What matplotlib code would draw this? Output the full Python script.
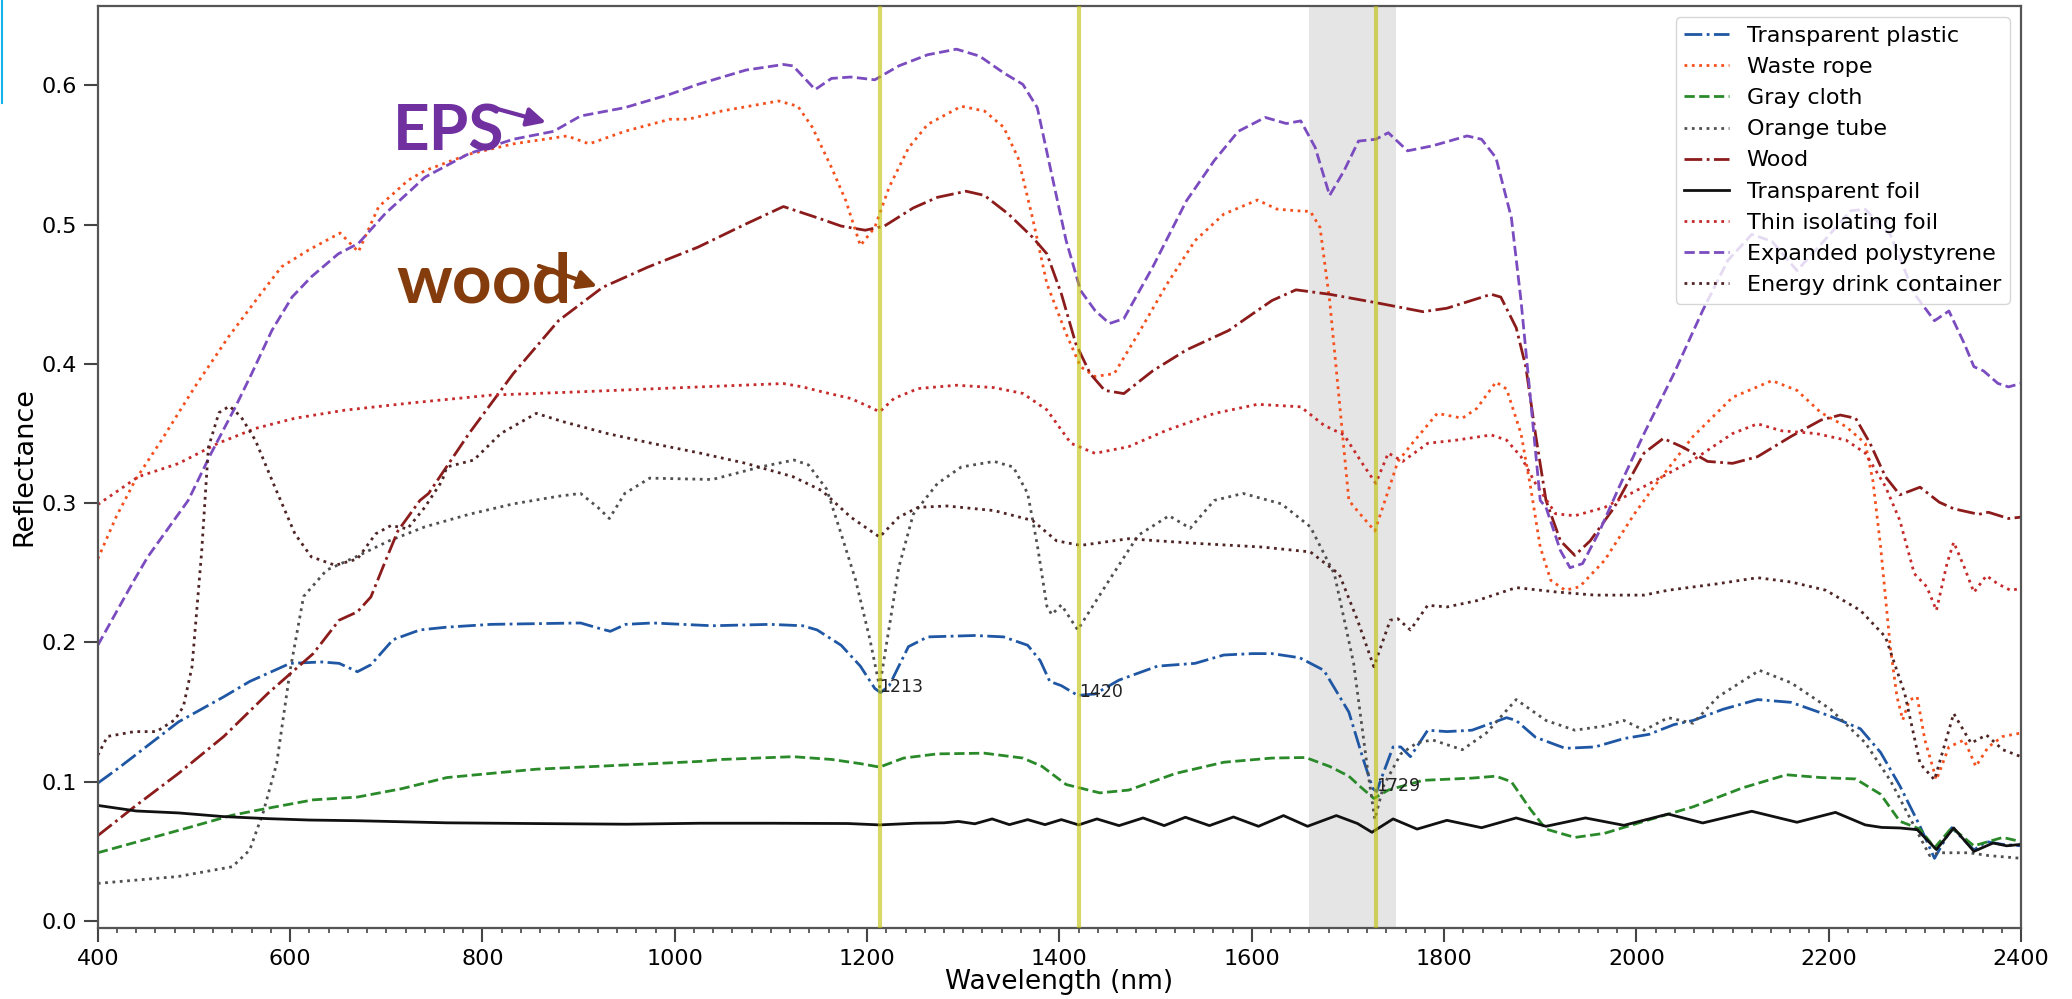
import matplotlib.pyplot as plt
from matplotlib.lines import Line2D

# reflectance spectra (wavelength nm, reflectance)
wl_plastic = [400, 420, 484, 531, 558, 600, 633, 651, 670, 684, 707, 735, 763, 809, 902, 922, 933, 949, 977,
              1039, 1099, 1133, 1148, 1173, 1193, 1208, 1214, 1223, 1243, 1263, 1312, 1342, 1367, 1380, 1390,
              1402, 1419, 1437, 1462, 1502, 1541, 1571, 1601, 1621, 1650, 1675, 1701, 1716, 1726, 1730, 1734,
              1747, 1755, 1765, 1783, 1803, 1829, 1865, 1875, 1895, 1926, 1957, 1987, 2013, 2039, 2059, 2090,
              2126, 2161, 2202, 2233, 2254, 2274, 2295, 2310, 2328, 2351, 2364, 2381, 2400]
r_plastic = [.099, .109, .143, .161, .172, .185, .186, .185, .179, .184, .202, .209, .211, .213, .214, .210, .208,
             .213, .214, .212, .213, .212, .209, .198, .183, .167, .164, .169, .197, .204, .205, .204, .198, .187,
             .172, .169, .162, .163, .173, .183, .185, .191, .192, .192, .189, .180, .150, .116, .095, .093, .101,
             .125, .125, .118, .137, .136, .137, .146, .144, .132, .124, .125, .131, .134, .141, .144, .152, .159,
             .157, .147, .138, .121, .097, .068, .045, .067, .051, .057, .055, .054]

wl_rope = [400, 419, 439, 466, 501, 536, 570, 591, 619, 652, 671, 692, 723, 740, 786, 832, 888, 911, 948, 995,
           1014, 1049, 1108, 1128, 1143, 1163, 1178, 1193, 1208, 1223, 1243, 1263, 1298, 1322, 1342, 1357, 1372,
           1387, 1407, 1422, 1437, 1457, 1482, 1512, 1541, 1571, 1606, 1626, 1646, 1661, 1671, 1681, 1691, 1701,
           1711, 1728, 1742, 1752, 1767, 1793, 1819, 1834, 1854, 1865, 1880, 1890, 1900, 1911, 1926, 1941, 1967,
           1998, 2018, 2059, 2100, 2141, 2167, 2192, 2218, 2238, 2246, 2254, 2264, 2271, 2277, 2284, 2292, 2300,
           2312, 2325, 2341, 2353, 2366, 2381, 2400]
r_rope = [.260, .29, .3166, .345, .3836, .4195, .4508, .4697, .4817, .494, .4805, .5128, .532, .5387, .5506, .558,
          .5637, .558, .567, .5757, .5757, .5816, .5888, .585, .570, .541, .517, .485, .498, .527, .555, .572, .585,
          .5816, .570, .548, .505, .4575, .4217, .398, .391, .393, .4217, .4575, .4885, .5076, .5177, .5112, .51,
          .5095, .498, .4456, .374, .302, .2936, .280, .309, .330, .343, .3645, .361, .368, .387, .382, .350,
          .3115, .2685, .2446, .2375, .240, .259, .2924, .3115, .348, .376, .388, .381, .365, .355, .343, .316,
          .2685, .197, .161, .1444, .1587, .161, .130, .1014, .125, .130, .111, .125, .1325, .135]

wl_cloth = [400, 447, 494, 540, 577, 624, 670, 716, 763, 809, 856, 902, 948, 1026, 1049, 1123, 1163, 1193, 1213,
            1238, 1273, 1322, 1362, 1382, 1407, 1442, 1472, 1521, 1571, 1621, 1656, 1681, 1701, 1712, 1727, 1742,
            1778, 1829, 1854, 1870, 1890, 1906, 1936, 1967, 2008, 2059, 2110, 2156, 2192, 2228, 2254, 2274, 2295,
            2310, 2328, 2351, 2381, 2400]
r_cloth = [.049, .058, .067, .076, .081, .087, .089, .095, .103, .106, .109, .1105, .112, .1146, .116, .118, .116,
           .113, .1105, .117, .120, .1205, .117, .111, .098, .092, .094, .106, .114, .117, .1174, .111, .104, .097,
           .088, .094, .101, .1026, .104, .100, .080, .066, .060, .063, .0716, .082, .0955, .105, .103, .102, .091,
           .0716, .066, .0525, .067, .054, .060, .057]

wl_tube = [400, 484, 540, 558, 572, 586, 600, 614, 638, 651, 670, 703, 740, 786, 832, 879, 902, 920, 932, 948, 974,
           1039, 1089, 1124, 1139, 1158, 1173, 1188, 1203, 1213, 1223, 1233, 1248, 1273, 1298, 1332, 1352, 1367,
           1377, 1387, 1392, 1402, 1419, 1452, 1482, 1514, 1536, 1561, 1591, 1631, 1661, 1686, 1706, 1721, 1728,
           1737, 1755, 1772, 1788, 1819, 1844, 1875, 1906, 1936, 1967, 1987, 2008, 2033, 2059, 2085, 2128, 2161,
           2202, 2238, 2264, 2289, 2305, 2315, 2346, 2366, 2400]
r_tube = [.027, .032, .039, .051, .078, .113, .180, .233, .252, .256, .262, .273, .283, .292, .2995, .305, .307,
          .297, .289, .307, .318, .317, .326, .331, .3275, .31, .278, .245, .202, .168, .211, .254, .292, .314,
          .326, .33, .326, .307, .27, .226, .22, .227, .209, .245, .277, .291, .282, .302, .307, .2995, .283, .249,
          .185, .106, .073, .097, .12, .128, .13, .123, .135, .159, .144, .137, .14, .144, .137, .146, .142, .161,
          .18, .171, .152, .128, .101, .068, .047, .049, .049, .047, .045]

wl_wood = [400, 438, 484, 531, 577, 624, 651, 670, 684, 698, 712, 735, 744, 786, 832, 879, 925, 972, 1024, 1074,
           1113, 1148, 1173, 1198, 1218, 1248, 1273, 1303, 1322, 1347, 1372, 1387, 1402, 1417, 1432, 1447, 1467,
           1497, 1532, 1576, 1601, 1621, 1646, 1681, 1729, 1778, 1803, 1849, 1859, 1875, 1885, 1895, 1906, 1921,
           1936, 1952, 1977, 2008, 2028, 2049, 2074, 2100, 2126, 2161, 2192, 2212, 2228, 2243, 2259, 2274, 2295,
           2315, 2330, 2356, 2366, 2387, 2400]
r_wood = [.0613, .082, .106, .1325, .1635, .192, .216, .222, .2327, .2566, .280, .302, .307, .350, .393, .431, .455,
          .4695, .4838, .5005, .513, .505, .499, .496, .499, .512, .5196, .524, .521, .5076, .491, .479, .4504,
          .4146, .393, .381, .3787, .395, .410, .424, .436, .4455, .4532, .450, .444, .4375, .440, .450, .448,
          .426, .398, .350, .302, .273, .2625, .273, .297, .336, .3465, .340, .330, .3286, .3334, .348, .3597,
          .3633, .361, .343, .319, .306, .3115, .3007, .296, .292, .2935, .289, .290]

wl_foil = [400, 440, 484, 530, 577, 620, 670, 720, 763, 850, 950, 1026, 1100, 1180, 1213, 1250, 1280, 1295, 1312,
           1330, 1348, 1367, 1385, 1402, 1420, 1439, 1462, 1487, 1509, 1531, 1556, 1581, 1607, 1633, 1658, 1688,
           1710, 1725, 1747, 1772, 1803, 1839, 1875, 1906, 1947, 1987, 2033, 2069, 2120, 2167, 2207, 2238, 2255,
           2274, 2292, 2312, 2330, 2351, 2371, 2385, 2400]
r_foil = [.083, .079, .0776, .075, .0735, .0725, .072, .0712, .0705, .0700, .0695, .0702, .0702, .0700, .0690,
          .0702, .0705, .0715, .0698, .0733, .0692, .0728, .0692, .0728, .0690, .0733, .0685, .0740, .0685, .0745,
          .0685, .0747, .0680, .0757, .0680, .0757, .0700, .0637, .0733, .0660, .0723, .0670, .0740, .0680, .0740,
          .0687, .0768, .0704, .0788, .0709, .0780, .0690, .0672, .0668, .0656, .0513, .0668, .0500, .0560, .0540,
          .0550]

wl_thin = [400, 419, 442, 484, 525, 564, 605, 657, 726, 809, 902, 1026, 1113, 1133, 1153, 1183, 1203, 1213, 1228,
           1253, 1293, 1332, 1362, 1387, 1412, 1437, 1472, 1512, 1561, 1606, 1651, 1675, 1696, 1716, 1729, 1742,
           1757, 1783, 1813, 1849, 1865, 1880, 1895, 1916, 1936, 1967, 2008, 2059, 2100, 2126, 2151, 2187, 2218,
           2238, 2259, 2274, 2289, 2302, 2312, 2323, 2330, 2341, 2351, 2364, 2376, 2389, 2400]
r_thin = [.299, .308, .319, .3285, .343, .3537, .361, .3668, .372, .3776, .380, .3835, .3859, .3835, .380, .3752,
          .369, .3656, .3752, .3823, .3847, .383, .3788, .367, .343, .3358, .3406, .3525, .3644, .371, .3692, .356,
          .349, .3275, .3143, .336, .330, .343, .3453, .349, .3453, .3334, .3143, .2924, .291, .297, .312, .331,
          .350, .357, .352, .350, .3453, .336, .312, .2876, .2494, .240, .223, .2566, .272, .254, .236, .248, .242,
          .2375, .2387]

wl_eps = [400, 438, 452, 494, 518, 543, 560, 581, 602, 622, 650, 671, 699, 726, 740, 786, 832, 874, 902, 948, 995,
          1024, 1074, 1113, 1123, 1146, 1163, 1183, 1208, 1233, 1263, 1293, 1317, 1342, 1362, 1377, 1392, 1407,
          1422, 1437, 1452, 1467, 1497, 1532, 1561, 1586, 1614, 1636, 1651, 1666, 1681, 1696, 1711, 1729, 1742,
          1762, 1788, 1824, 1839, 1854, 1870, 1880, 1890, 1900, 1906, 1921, 1931, 1944, 1962, 1982, 2008, 2039,
          2069, 2095, 2120, 2141, 2167, 2192, 2223, 2238, 2264, 2289, 2310, 2325, 2341, 2351, 2361, 2376, 2387, 2400]
r_eps = [.198, .245, .2615, .302, .336, .369, .393, .424, .448, .4625, .479, .4865, .508, .525, .534, .551, .5613,
         .567, .578, .584, .5936, .6007, .611, .615, .614, .597, .605, .606, .604, .614, .622, .626, .621, .609,
         .6007, .584, .536, .4885, .4527, .4384, .429, .4325, .4695, .517, .546, .567, .577, .5726, .5745, .5554,
         .521, .5387, .560, .5613, .566, .553, .5566, .5637, .5613, .548, .505, .4456, .374, .302, .297, .266,
         .2537, .2566, .2804, .3115, .350, .393, .4384, .4742, .493, .488, .467, .486, .510, .511, .493, .4504,
         .431, .438, .4146, .398, .395, .386, .3835, .386]

wl_drink = [400, 410, 438, 461, 480, 489, 498, 508, 515, 526, 537, 549, 564, 584, 605, 622, 647, 670,
            689, 705, 722, 740, 758, 763, 791, 819, 856, 884, 930, 976, 1026, 1074, 1123, 1153, 1183, 1213, 1233,
            1253, 1283, 1332, 1372, 1397, 1422, 1472, 1502, 1546, 1611, 1661, 1691, 1710, 1727, 1744, 1752, 1765,
            1783, 1803, 1834, 1875, 1916, 1957, 2008, 2033, 2085, 2126, 2161, 2197, 2233, 2259, 2279, 2295, 2310,
            2330, 2348, 2364, 2381, 2400]
r_drink = [.119, .1325, .136, .136, .1444, .154, .1826, .265, .340, .365, .3697, .362, .345, .3118, .278, .2615,
           .2554, .260, .278, .284, .2816, .297, .316, .326, .331, .350, .3645, .3585, .350, .343,
           .336, .3286, .319, .309, .29, .2757, .29, .297, .298, .2947, .2876, .273, .2697, .2745, .273, .271,
           .2685, .265, .249, .216, .1826, .216, .217, .209, .2267, .2255, .230, .2394, .2363, .234, .234, .2375,
           .2422, .2465, .2434, .2375, .223, .204, .1635, .113, .1014, .149, .1277, .1336, .123, .118]

# marked absorption features (nm) and the plastic reflectance at each
band_wl = [1213, 1420, 1729]
band_r = [0.1645, 0.1612, 0.0930]
band_labels = ['1213', '1420', '1729']
span_lo, span_hi = 1660, 1750

series = [
    ('Transparent plastic', wl_plastic, r_plastic, '#1f57a4', '-.'),
    ('Waste rope', wl_rope, r_rope, '#f4511e', ':'),
    ('Gray cloth', wl_cloth, r_cloth, '#2a8a2a', '--'),
    ('Orange tube', wl_tube, r_tube, '#505050', ':'),
    ('Wood', wl_wood, r_wood, '#8c1c1c', '-.'),
    ('Transparent foil', wl_foil, r_foil, '#111111', '-'),
    ('Thin isolating foil', wl_thin, r_thin, '#c62a2a', ':'),
    ('Expanded polystyrene', wl_eps, r_eps, '#7b4cc0', '--'),
    ('Energy drink container', wl_drink, r_drink, '#4e2424', ':'),
]

fig = plt.figure(figsize=(20.72, 9.99), dpi=100)
ax = fig.add_axes([0.0472, 0.0711, 0.9282, 0.9229])

ax.axvspan(span_lo, span_hi, color='gray', alpha=0.2, lw=0, zorder=0)
for name, x, y, c, ls in series:
    ax.plot(x, y, ls, color=c, lw=2.0, label=name, zorder=2)
for w in band_wl:
    ax.axvline(w, color='y', alpha=0.6, lw=3, zorder=3)
for w, r, t in zip(band_wl, band_r, band_labels):
    ax.text(w, r, t, fontsize=12.5, color='#222222', zorder=4)

# hand-drawn style callouts
ax.text(707, 0.5535, 'EPS', family='Lato', weight='bold', fontsize=46, color='#7030a0', zorder=5)
ax.annotate('', xy=(869, 0.5729), xytext=(809, 0.5843),
            arrowprops=dict(arrowstyle='-|>', color='#7030a0', lw=3, mutation_scale=28), zorder=5)
ax.text(711, 0.4444, 'wood', family='Lato', weight='bold', fontsize=50, color='#843c0c', zorder=5)
ax.annotate('', xy=(922, 0.455), xytext=(856, 0.471),
            arrowprops=dict(arrowstyle='-|>', color='#843c0c', lw=3, mutation_scale=28), zorder=5)

ax.set_xlim(400, 2400)
ax.set_ylim(-0.005, 0.657)
ax.set_xticks(range(400, 2401, 200))
ax.set_xticks(range(400, 2401, 20), minor=True)
ax.set_yticks([0.0, 0.1, 0.2, 0.3, 0.4, 0.5, 0.6])
ax.tick_params(which='major', length=10, width=1.5, labelsize=16, pad=5, color='#444444')
ax.tick_params(which='minor', length=3.5, width=1.2, color='#444444')
for s in ax.spines.values():
    s.set_color('#555555')
    s.set_linewidth(1.6)

ax.set_xlabel('Wavelength (nm)', fontsize=19, labelpad=0)
ax.set_ylabel('Reflectance', fontsize=19.5, labelpad=3)
ax.legend(loc='upper right', fontsize=16, labelspacing=0.5)

# stray blue mark at the left edge of the source image
fig.add_artist(Line2D([0.0008, 0.0008], [1.0, 1 - 103 / 999], transform=fig.transFigure,
                      color='#12b4f0', lw=1.5))

fig.savefig('out.png', dpi=100)
